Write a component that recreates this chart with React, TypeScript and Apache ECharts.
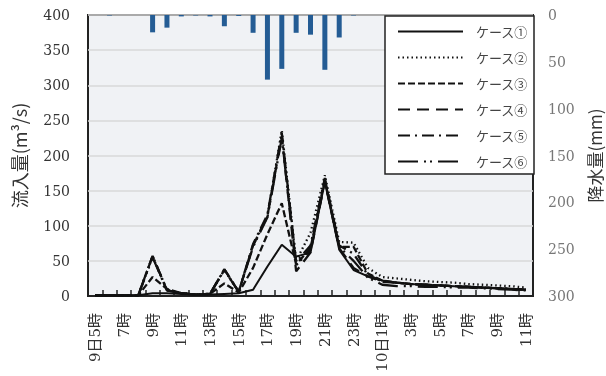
import React, { useEffect, useRef } from "react";
import * as echarts from "echarts";

const categories = [
  "9日5時", "9日6時", "9日7時", "9日8時", "9日9時", "9日10時", "9日11時", "9日12時",
  "9日13時", "9日14時", "9日15時", "9日16時", "9日17時", "9日18時", "9日19時", "9日20時",
  "9日21時", "9日22時", "9日23時", "10日0時", "10日1時", "10日2時", "10日3時", "10日4時",
  "10日5時", "10日6時", "10日7時", "10日8時", "10日9時", "10日10時", "10日11時",
];
const tickLabels = [
  "9日5時", "", "7時", "", "9時", "", "11時", "", "13時", "", "15時", "", "17時", "",
  "19時", "", "21時", "", "23時", "", "10日1時", "", "3時", "", "5時", "", "7時", "",
  "9時", "", "11時",
];
const rainfall = [0, 0.5, 0, 0, 18.5, 13.5, 1.5, 0.5, 1.5, 12, 1, 19, 69, 57.5, 19, 21, 58.5, 24, 0.5, 0, 0, 0, 0, 0, 0, 0, 0, 0, 0, 0, 0];
const case1 = [1, 1, 1, 1, 4, 4, 3, 2, 2, 3, 4, 9, 42, 73, 56, 62, 163, 66, 37, 28, 22, 19, 17, 16, 15, 14, 13, 12, 11, 10, 9];
const case2 = [1, 1, 1, 1, 56, 9, 4, 2, 3, 37, 6, 72, 113, 236, 50, 90, 172, 77, 76, 40, 27, 25, 23, 21, 20, 19, 17, 16, 15, 14, 12];
const case3 = [1, 1, 1, 1, 27, 10, 4, 2, 3, 18, 5, 40, 88, 132, 45, 68, 166, 70, 70, 32, 22, 19, 17, 16, 15, 14, 13, 12, 11, 10, 9];
const case4 = [1, 1, 1, 1, 57, 8, 4, 2, 3, 38, 6, 72, 114, 228, 35, 62, 163, 68, 40, 28, 20, 19, 17, 16, 15, 14, 13, 12, 11, 10, 9];
const case5 = [1, 1, 1, 1, 57, 8, 4, 2, 3, 38, 6, 74, 116, 232, 48, 72, 168, 72, 60, 30, 21, 19, 17, 16, 15, 14, 13, 12, 11, 10, 9];
const case6 = [1, 1, 1, 1, 55, 8, 4, 2, 3, 37, 6, 70, 112, 225, 44, 65, 165, 70, 50, 26, 16, 14, 14, 13, 13, 12, 12, 11, 10, 9, 8];
const caseNames = ["ケース①", "ケース②", "ケース③", "ケース④", "ケース⑤", "ケース⑥"];
const caseData = [case1, case2, case3, case4, case5, case6];
const caseDash: any[] = ["solid", [1.5, 3], [7, 3], [12, 7], [12, 5, 2, 5], [20, 6, 2, 4, 2, 6]];

const serif = "'DejaVu Serif', 'Liberation Serif', 'Noto Sans CJK JP', serif";
const cjk = "'Noto Sans CJK JP', 'DejaVu Serif', serif";

export default function App() {
  const ref = useRef<HTMLDivElement>(null);
  useEffect(() => {
    document.body.style.margin = "0";
    const chart = echarts.init(ref.current!, null, { renderer: "svg" });
    const lineSeries = caseNames.map((n, k) => ({
      name: n,
      type: "line",
      data: caseData[k],
      yAxisIndex: 0,
      symbol: "none",
      z: 3,
      lineStyle: { color: "#111", width: k === 0 ? 2 : 2.3, type: caseDash[k] },
      itemStyle: { color: "#111" },
    }));
    chart.setOption({
      animation: false,
      grid: {
        left: 88, right: 73, top: 15, bottom: 80,
        outerBoundsMode: "none", containLabel: false,
        show: true, borderColor: "#222", borderWidth: 2, backgroundColor: "#f0f2f5",
      },
      legend: {
        data: caseNames,
        orient: "vertical",
        left: 385, top: 16,
        padding: [9, 6, 6, 12],
        itemGap: 13, itemWidth: 65, itemHeight: 14,
        backgroundColor: "#fff", borderColor: "#222", borderWidth: 1.5,
        itemStyle: { opacity: 0, borderWidth: 0, color: "transparent" },
        textStyle: { fontSize: 13, color: "#444", fontFamily: cjk, padding: [0, 0, 0, 8] },
      },
      xAxis: {
        type: "category",
        data: categories,
        boundaryGap: true,
        axisLine: { lineStyle: { color: "#222", width: 2 } },
        axisTick: { show: true, inside: true, length: 6, interval: 0, lineStyle: { color: "#222", width: 1.5 } },
        axisLabel: {
          interval: 1, rotate: 90, fontSize: 15, color: "#333", margin: 17, fontFamily: serif,
          formatter: (_v: string, i: number) => tickLabels[i],
        },
        splitLine: { show: false },
      },
      yAxis: [
        {
          type: "value", min: 0, max: 400, interval: 50,
          name: "流入量(m³/s)", nameLocation: "middle", nameGap: 60,
          nameTextStyle: { fontSize: 18, color: "#333", fontFamily: cjk },
          axisLine: { show: false }, axisTick: { show: false },
          axisLabel: { fontSize: 14, color: "#333", margin: 18, fontFamily: serif },
          splitLine: { lineStyle: { color: "#d9d9d9", width: 1.5 } },
        },
        {
          type: "value", min: 0, max: 300, interval: 50, inverse: true, position: "right",
          name: "降水量(mm)", nameLocation: "middle", nameGap: 40,
          nameTextStyle: { fontSize: 17, color: "#333", fontFamily: cjk },
          axisLine: { show: false }, axisTick: { show: false },
          axisLabel: { fontSize: 14, color: "#777", margin: 15, fontFamily: serif },
          splitLine: { show: false },
        },
      ],
      series: [
        {
          name: "降水量", type: "bar", yAxisIndex: 1, data: rainfall, barWidth: 5, z: 2,
          itemStyle: { color: "#245c94" },
        },
        ...lineSeries,
      ],
    });
    return () => chart.dispose();
  }, []);
  return <div ref={ref} style={{ width: 606, height: 376, position: "fixed", left: 0, top: 0 }} />;
}
